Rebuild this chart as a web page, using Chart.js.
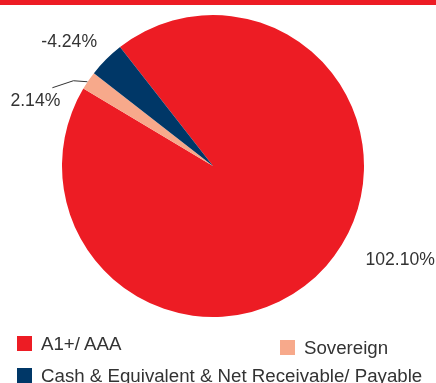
<!DOCTYPE html>
<html lang="en">
<head>
  <meta charset="UTF-8">
  <title>Rating Profile</title>
  <script src="https://cdn.jsdelivr.net/npm/chart.js"></script>
  <style>
    html, body { margin: 0; padding: 0; background: #fff; }
    body { width: 436px; height: 383px; position: relative; overflow: hidden;
           font-family: "Liberation Sans", Arial, sans-serif; color: #333; }
    .topbar { position: absolute; left: 0; top: 0; width: 436px; height: 5px; background: #ED1C24; }
    #wrap { position: absolute; left: 0; top: 0; width: 436px; height: 383px; }
    .legend-item { position: absolute; font-size: 18.7px; line-height: 17px; white-space: nowrap; }
    .legend-item i { display: inline-block; width: 15px; height: 15px; vertical-align: -1px; margin-right: 9px; }
  </style>
</head>
<body>
  <div class="topbar"></div>
  <div id="wrap"><canvas id="pie" width="436" height="383"></canvas></div>
  <div id="legend"></div>
  <script>
    // portfolio rating split (%)
    const categories = ['A1+/ AAA', 'Sovereign', 'Cash & Equivalent & Net Receivable/ Payable'];
    const values = [102.10, 2.14, -4.24];
    const colors = ['#ED1C24', '#F7A98B', '#003767'];

    // slice size uses magnitude, label shows the signed value
    const sizes = values.map(v => Math.abs(v));

    // label offsets from the outer edge of each slice
    const labelOffset = [[74, -6], [-53, 20], [-37, -17]];
    const legendPos = [[17, 335], [280, 339], [17, 367]];

    const labelPlugin = {
      id: 'sliceLabels',
      afterDatasetsDraw(chart) {
        const ctx = chart.ctx;
        const arcs = chart.getDatasetMeta(0).data;
        ctx.save();
        ctx.font = '17.6px "Liberation Sans", Arial, sans-serif';
        ctx.fillStyle = '#333';
        ctx.textAlign = 'center';
        ctx.textBaseline = 'middle';
        arcs.forEach((arc, i) => {
          const p = arc.getProps(['x', 'y', 'startAngle', 'endAngle', 'outerRadius'], true);
          const mid = (p.startAngle + p.endAngle) / 2;
          const ex = p.x + Math.cos(mid) * p.outerRadius;
          const ey = p.y + Math.sin(mid) * p.outerRadius;
          const lx = ex + labelOffset[i][0];
          const ly = ey + labelOffset[i][1];
          if (i === 1) {
            // leader line for the thin slice
            ctx.strokeStyle = '#333';
            ctx.lineWidth = 1;
            ctx.beginPath();
            ctx.moveTo(ex - 1, ey + 1);
            ctx.lineTo(ex - 15, ey);
            ctx.lineTo(ex - 36, ey + 7);
            ctx.stroke();
          }
          ctx.fillText(values[i].toFixed(2) + '%', lx, ly);
        });
        ctx.restore();
      }
    };

    new Chart(document.getElementById('pie'), {
      type: 'pie',
      data: {
        labels: categories,
        datasets: [{
          data: sizes,
          backgroundColor: colors,
          borderWidth: 0
        }]
      },
      options: {
        responsive: false,
        animation: false,
        rotation: -38,
        layout: { padding: { left: 62, right: 72, top: 15, bottom: 66 } },
        plugins: {
          legend: { display: false },
          tooltip: { enabled: false }
        }
      },
      plugins: [labelPlugin]
    });

    const legend = document.getElementById('legend');
    categories.forEach((c, i) => {
      const d = document.createElement('div');
      d.className = 'legend-item';
      d.style.left = legendPos[i][0] + 'px';
      d.style.top = legendPos[i][1] + 'px';
      d.innerHTML = '<i style="background:' + colors[i] + '"></i>';
      d.appendChild(document.createTextNode(c));
      legend.appendChild(d);
    });
  </script>
</body>
</html>
